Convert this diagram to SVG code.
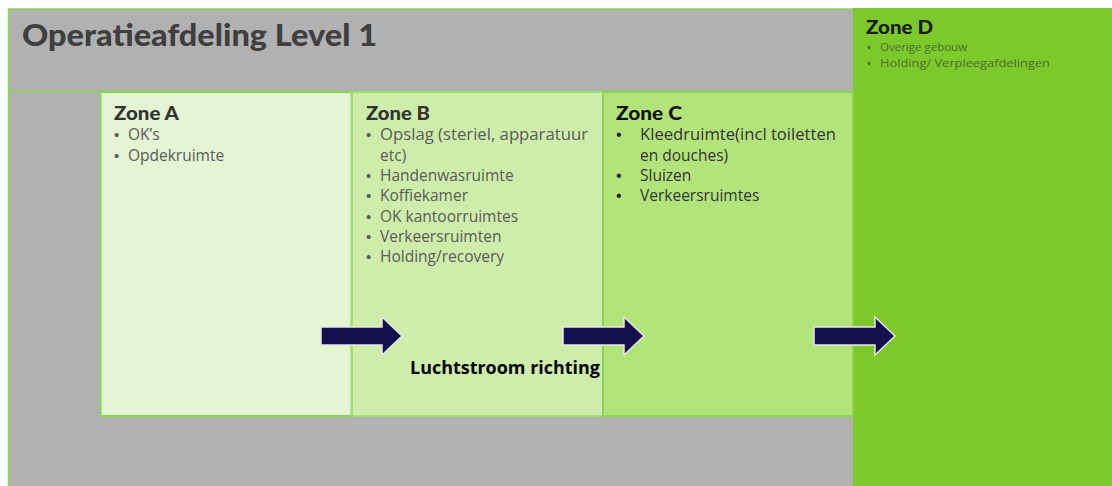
<svg xmlns="http://www.w3.org/2000/svg" width="1112" height="486" viewBox="0 0 1112 486">
  <defs>
    <style>
      .title { font-family: Lato, "Open Sans", sans-serif; font-weight: 900; font-size: 30px; fill: #3f3f3f; }
      .zt { font-family: Lato, "Open Sans", sans-serif; font-weight: 900; font-size: 19px; fill: #333333; }
      .it { font-family: "Open Sans", Lato, sans-serif; font-size: 15.5px; fill: #5a5a5a; }
      .itc { font-family: "Open Sans", Lato, sans-serif; font-size: 15.5px; fill: #333333; }
      .itd { font-family: "Open Sans", Lato, sans-serif; font-size: 11.5px; fill: #4d6b2e; }
      .bul { font-family: "Liberation Sans", sans-serif; font-size: 15px; fill: #5a5a5a; }
      .bulc { font-family: "Liberation Sans", sans-serif; font-size: 16px; fill: #222222; }
      .buld { font-family: "Liberation Sans", sans-serif; font-size: 11px; fill: #4d6b2e; }
      .flow { font-family: "Open Sans", Lato, sans-serif; font-weight: 700; font-size: 17px; fill: #000000; }
      .arrow { fill: #140f4d; stroke: #e6e6e6; stroke-width: 1.5; stroke-linejoin: miter; }
    </style>
    <path id="arr" d="M0 -9 H61 V-19 L81 0 L61 19 V9 H0 Z"/>
  </defs>

  <rect width="1112" height="486" fill="#ffffff"/>

  <!-- department frame -->
  <g id="department">
    <rect x="8.5" y="9" width="845" height="478" fill="#b1b1b1" stroke="#8bd44f" stroke-width="1.5"/>
    <line x1="8" y1="91.5" x2="853" y2="91.5" stroke="#8bd44f" stroke-width="1.5"/>
    <text class="title" x="22" y="46" textLength="355" lengthAdjust="spacingAndGlyphs">Operatieafdeling Level 1</text>
  </g>

  <!-- zone D -->
  <g id="zoneD">
    <rect x="853" y="8" width="259" height="478" fill="#7dc92b"/>
    <text class="zt" x="866" y="34" style="fill:#1a1a1a" textLength="67" lengthAdjust="spacingAndGlyphs">Zone D</text>
    <text class="buld" x="867" y="51">•</text>
    <text class="itd" x="880" y="51">Overige gebouw</text>
    <text class="buld" x="867" y="67">•</text>
    <text class="itd" x="880" y="67" textLength="170" lengthAdjust="spacingAndGlyphs">Holding/ Verpleegafdelingen</text>
  </g>

  <!-- zone A -->
  <g id="zoneA">
    <rect x="100.5" y="92" width="251" height="324" fill="#e3f5d3" stroke="#8bd44f" stroke-width="2"/>
    <text class="zt" x="114" y="120" textLength="65" lengthAdjust="spacingAndGlyphs">Zone A</text>
    <text class="bul" x="114" y="140">•</text>
    <text class="it" x="128" y="140">OK’s</text>
    <text class="bul" x="114" y="161">•</text>
    <text class="it" x="128" y="161">Opdekruimte</text>
  </g>

  <!-- zone B -->
  <g id="zoneB">
    <rect x="352" y="92" width="251" height="324" fill="#ceedaa" stroke="#a3dc72" stroke-width="2"/>
    <text class="zt" x="366" y="120" textLength="64" lengthAdjust="spacingAndGlyphs">Zone B</text>
    <text class="bul" x="366" y="140">•</text>
    <text class="it" x="380" y="140" textLength="208" lengthAdjust="spacingAndGlyphs">Opslag (steriel, apparatuur</text>
    <text class="it" x="380" y="161">etc)</text>
    <text class="bul" x="366" y="181">•</text>
    <text class="it" x="380" y="181">Handenwasruimte</text>
    <text class="bul" x="366" y="201">•</text>
    <text class="it" x="380" y="201">Koffiekamer</text>
    <text class="bul" x="366" y="222">•</text>
    <text class="it" x="380" y="222">OK kantoorruimtes</text>
    <text class="bul" x="366" y="242">•</text>
    <text class="it" x="380" y="242">Verkeersruimten</text>
    <text class="bul" x="366" y="262">•</text>
    <text class="it" x="380" y="262">Holding/recovery</text>
  </g>

  <!-- zone C -->
  <g id="zoneC">
    <rect x="603" y="92" width="250" height="324" fill="#b3e47b" stroke="#8bd44f" stroke-width="2"/>
    <text class="zt" x="616" y="120" style="fill:#111111" textLength="66" lengthAdjust="spacingAndGlyphs">Zone C</text>
    <text class="bulc" x="616" y="140">•</text>
    <text class="itc" x="640" y="140" textLength="196" lengthAdjust="spacingAndGlyphs">Kleedruimte(incl toiletten</text>
    <text class="itc" x="640" y="161">en douches)</text>
    <text class="bulc" x="616" y="181">•</text>
    <text class="itc" x="640" y="181">Sluizen</text>
    <text class="bulc" x="616" y="201">•</text>
    <text class="itc" x="640" y="201">Verkeersruimtes</text>
  </g>

  <!-- air flow arrows -->
  <g id="connectors">
    <use href="#arr" class="arrow" x="321" y="336"/>
    <use href="#arr" class="arrow" x="563" y="336"/>
    <use href="#arr" class="arrow" x="814" y="336"/>
  </g>

  <text class="flow" x="410" y="374" textLength="190" lengthAdjust="spacingAndGlyphs">Luchtstroom richting</text>
</svg>
